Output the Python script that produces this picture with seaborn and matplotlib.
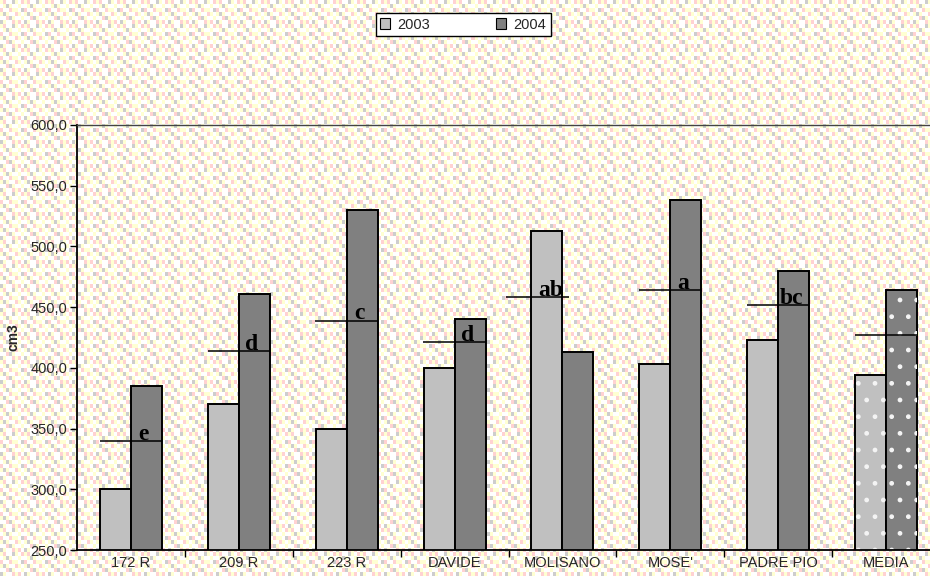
import numpy as np
import pandas as pd
import matplotlib
matplotlib.use("Agg")
import matplotlib.pyplot as plt
from matplotlib.patches import Patch, Rectangle
from matplotlib.ticker import FuncFormatter, FixedLocator
import seaborn as sns

# data
cultivars = ["172 R", "209 R", "223 R", "DAVIDE", "MOLISANO", "MOSE'", "PADRE PIO", "MEDIA"]
years = ["2003", "2004"]
vol_2003 = [300, 370, 350, 400, 513, 403, 423, 394]
vol_2004 = [385, 461, 530, 440, 413, 538, 480, 464]
means = [340, 414, 439, 421, 458, 464, 452, 427]
letters = ["e", "d", "c", "d", "ab", "a", "bc", ""]

df = pd.DataFrame({
    "cultivar": cultivars * 2,
    "anno": [years[0]] * len(cultivars) + [years[1]] * len(cultivars),
    "cm3": vol_2003 + vol_2004,
})

light = "#C0C0C0"
dark = "#808080"

sns.set_theme(style="white")
plt.rcParams["font.family"] = ["Liberation Sans", "DejaVu Sans"]

fig = plt.figure(figsize=(9.3, 5.76), dpi=100)

# textured pastel background (fixed tile, repeated)
palette_bg = np.array([[255, 255, 255], [255, 255, 210], [255, 210, 210], [205, 205, 205]]) / 255.0
tile = np.array([
    [1, 2, 0, 0, 3, 1, 0, 2],
    [0, 1, 3, 1, 0, 0, 1, 0],
    [2, 0, 0, 2, 1, 1, 0, 3],
    [1, 3, 1, 0, 0, 2, 1, 0],
    [0, 0, 2, 3, 1, 0, 0, 1],
    [3, 1, 0, 0, 2, 1, 2, 0],
])
idx = np.tile(tile, (144 // tile.shape[0] + 1, 310 // tile.shape[1] + 1))[:144, :310]
bg = fig.add_axes([0, 0, 1, 1], zorder=-10)
bg.imshow(palette_bg[idx], aspect="auto", interpolation="nearest", extent=[0, 1, 0, 1])
bg.axis("off")

# plot area runs a little past the right edge of the picture, as in the original
ax = fig.add_axes([77 / 930, 1 - 550 / 576, (940 - 77) / 930, (550 - 125) / 576])
ax.patch.set_alpha(0)

sns.barplot(data=df, x="cultivar", y="cm3", hue="anno", palette=[light, dark],
            edgecolor="black", linewidth=1.4, width=0.575, dodge=True,
            saturation=1, legend=False, ax=ax)

# dotted fill for the MEDIA bars
plt.rcParams["hatch.linewidth"] = 1.0
for p in list(ax.patches):
    cx = p.get_x() + p.get_width() / 2
    if abs(cx - (len(cultivars) - 1)) < 0.5:
        ax.add_patch(Rectangle((p.get_x(), p.get_y()), p.get_width(), p.get_height(),
                               facecolor="none", edgecolor="#f4f4f4", hatch=".", linewidth=0,
                               zorder=p.get_zorder() + 0.1))

# mean lines + letters (MOLISANO line sits a bit to the left in the original)
line_shift = {"MOLISANO": -0.23}
half = 0.29
for i, (c, m, lab) in enumerate(zip(cultivars, means, letters)):
    off = line_shift.get(c, 0)
    ax.hlines(m, i - half + off, i + half + off, color="black", linewidth=1.1, zorder=5)
    if lab:
        ax.text(i + half + off - 0.17, m + 1, lab, ha="center", va="baseline",
                family=["Liberation Serif", "DejaVu Serif"], fontweight="bold",
                fontsize=17, color="black", zorder=6)

ax.set_ylim(250, 600)
ax.set_xlim(-0.5, len(cultivars) - 0.5)
ax.yaxis.set_major_locator(FixedLocator(np.arange(250, 601, 50)))
ax.yaxis.set_major_formatter(FuncFormatter(lambda v, pos: f"{v:.1f}".replace(".", ",")))
ax.set_xlabel("")
ax.set_ylabel("cm3", fontsize=10, fontweight="bold", labelpad=7)

ax.tick_params(axis="y", which="major", direction="out", length=5, width=1, color="black",
               labelsize=10.5, left=True, pad=2)
ax.tick_params(axis="x", which="major", length=0, labelsize=10.5, pad=4)
ax.xaxis.set_minor_locator(FixedLocator(np.arange(0.5, len(cultivars) - 0.5, 1)))
ax.tick_params(axis="x", which="minor", direction="out", length=5, width=1, color="black", bottom=True)

for side in ["left", "bottom"]:
    ax.spines[side].set_color("black")
    ax.spines[side].set_linewidth(1.3)
ax.spines["top"].set_color("#444444")
ax.spines["top"].set_linewidth(1.0)
ax.spines["right"].set_visible(False)

handles = [Patch(facecolor=light, edgecolor="black", linewidth=0.8, label=years[0]),
           Patch(facecolor=dark, edgecolor="black", linewidth=0.8, label=years[1])]
leg = fig.legend(handles=handles, loc="upper center", bbox_to_anchor=(0.498, 1 - 6 / 576),
                 ncol=2, frameon=True, fancybox=False, fontsize=10.5, handlelength=0.7,
                 handleheight=0.7, handletextpad=0.5, columnspacing=4.5,
                 borderpad=0.3, edgecolor="black", facecolor="white", framealpha=1)
leg.get_frame().set_linewidth(1.0)

fig.savefig("out.png", dpi=100)
